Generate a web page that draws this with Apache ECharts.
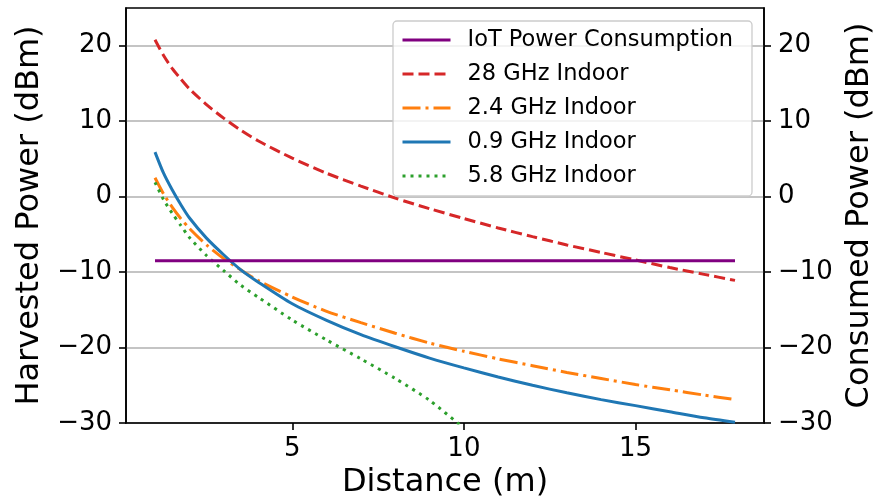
<!DOCTYPE html>
<html>
<head>
<meta charset="utf-8">
<script src="https://cdn.jsdelivr.net/npm/echarts@6/dist/echarts.min.js"></script>
<style>
  html, body { margin: 0; padding: 0; background: #ffffff; }
  #chart { width: 878px; height: 504px; }
</style>
</head>
<body>
<div id="chart"></div>
<script>
// Distance from the transmitter (m)
const distance = [1, 1.25, 1.5, 1.75, 2, 2.5, 3, 3.5, 4, 5, 6, 7, 8, 9, 10, 11, 12, 13, 14, 15, 16, 17, 17.9];

// Received / harvested power per band (dBm)
const iotConsumption = [-8.5, -8.5, -8.5, -8.5, -8.5, -8.5, -8.5, -8.5, -8.5, -8.5, -8.5, -8.5,
                        -8.5, -8.5, -8.5, -8.5, -8.5, -8.5, -8.5, -8.5, -8.5, -8.5, -8.5];
const indoor28 = [20.8, 18.7, 17.0, 15.6, 14.3, 12.2, 10.4, 8.8, 7.4, 5.1, 3.1, 1.4,
                  -0.2, -1.6, -2.9, -4.15, -5.3, -6.4, -7.4, -8.4, -9.4, -10.3, -11.1];
const indoor24 = [2.5, 0.35, -1.4, -2.9, -4.2, -6.4, -8.2, -9.7, -11.1, -13.3, -15.2, -16.7,
                  -18.1, -19.4, -20.5, -21.5, -22.4, -23.3, -24.1, -24.9, -25.6, -26.3, -26.9];
const indoor09 = [5.9, 3.1, 0.9, -1.05, -2.8, -5.5, -7.7, -9.7, -11.3, -14.2, -16.4, -18.3,
                  -19.9, -21.4, -22.7, -23.9, -25.0, -26.0, -26.9, -27.7, -28.5, -29.3, -29.9];
const indoor58 = [1.9, -0.4, -2.2, -3.8, -5.4, -7.8, -9.8, -11.75, -13.3, -16.35, -19.0, -21.5,
                  -24.1, -27.0, -30.7, null, null, null, null, null, null, null, null];

const seriesNames = ['IoT Power Consumption', '28 GHz Indoor', '2.4 GHz Indoor', '0.9 GHz Indoor', '5.8 GHz Indoor'];
const xTicks = [5, 10, 15];
const yTicks = [-30, -20, -10, 0, 10, 20];

const FONT = 'DejaVu Sans';
const LW = 3;
const minus = v => String(v).replace('-', '\u2212');
const pairs = ys => distance.map((d, i) => [d, ys[i]]);

const axisLineStyle = { color: '#000', width: 1.6 };

function yAxisDef(position, name, gap, grid) {
  return {
    type: 'value', position: position, min: -30, max: 25,
    name: name, nameLocation: 'middle', nameRotate: 90, nameGap: gap,
    nameTextStyle: { fontFamily: FONT, fontSize: 32, color: '#000' },
    axisLine: { show: true, onZero: false, lineStyle: axisLineStyle },
    axisTick: { show: true, length: 7, lineStyle: axisLineStyle, customValues: yTicks },
    axisLabel: { customValues: yTicks, formatter: minus, fontFamily: FONT, fontSize: 26, color: '#000', margin: 14 },
    splitLine: { show: grid, lineStyle: { color: '#b0b0b0', width: 1.6 } }
  };
}

function line(name, data, color, dash, axisIndex) {
  return {
    name: name, type: 'line', data: pairs(data), yAxisIndex: axisIndex,
    symbol: 'none', showSymbol: false, smooth: 0.25, clip: true, connectNulls: false,
    lineStyle: { color: color, width: LW, type: dash, cap: 'butt' },
    itemStyle: { color: color }
  };
}

const chart = echarts.init(document.getElementById('chart'), null, { renderer: 'canvas' });
chart.setOption({
  animation: false,
  grid: { left: 126, right: 114, top: 8, bottom: 81, show: true, borderColor: '#000', borderWidth: 1.6,
          backgroundColor: 'transparent', outerBoundsMode: 'none' },
  xAxis: {
    type: 'value', min: 0.155, max: 18.745,
    name: 'Distance (m)', nameLocation: 'middle', nameGap: 44,
    nameTextStyle: { fontFamily: FONT, fontSize: 32, color: '#000' },
    axisLine: { show: true, onZero: false, lineStyle: axisLineStyle },
    axisTick: { show: true, length: 7, lineStyle: axisLineStyle, customValues: xTicks },
    axisLabel: { customValues: xTicks, fontFamily: FONT, fontSize: 26, color: '#000', margin: 13 },
    splitLine: { show: false }
  },
  yAxis: [
    yAxisDef('left', 'Harvested Power (dBm)', 80, true),
    yAxisDef('right', 'Consumed Power (dBm)', 79, false)
  ],
  legend: {
    orient: 'vertical', left: 393, top: 21,
    data: seriesNames,
    itemWidth: 48, itemHeight: 14, itemGap: 8,
    padding: [6, 19, 7, 8],
    itemStyle: { opacity: 0 },
    lineStyle: { width: LW },
    backgroundColor: 'rgba(255,255,255,0.8)', borderColor: '#cccccc', borderWidth: 1.3, borderRadius: 4,
    textStyle: { fontFamily: FONT, fontSize: 22.5, color: '#000', lineHeight: 26, padding: [0, 0, 0, 12] }
  },
  series: [
    line(seriesNames[1], indoor28, '#d62728', [11, 5], 0),
    line(seriesNames[2], indoor24, '#ff7f0e', [18, 5, 3, 5], 0),
    line(seriesNames[3], indoor09, '#1f77b4', 'solid', 0),
    line(seriesNames[4], indoor58, '#2ca02c', [3, 5], 0),
    line(seriesNames[0], iotConsumption, '#800080', 'solid', 1)
  ]
});
</script>
</body>
</html>
